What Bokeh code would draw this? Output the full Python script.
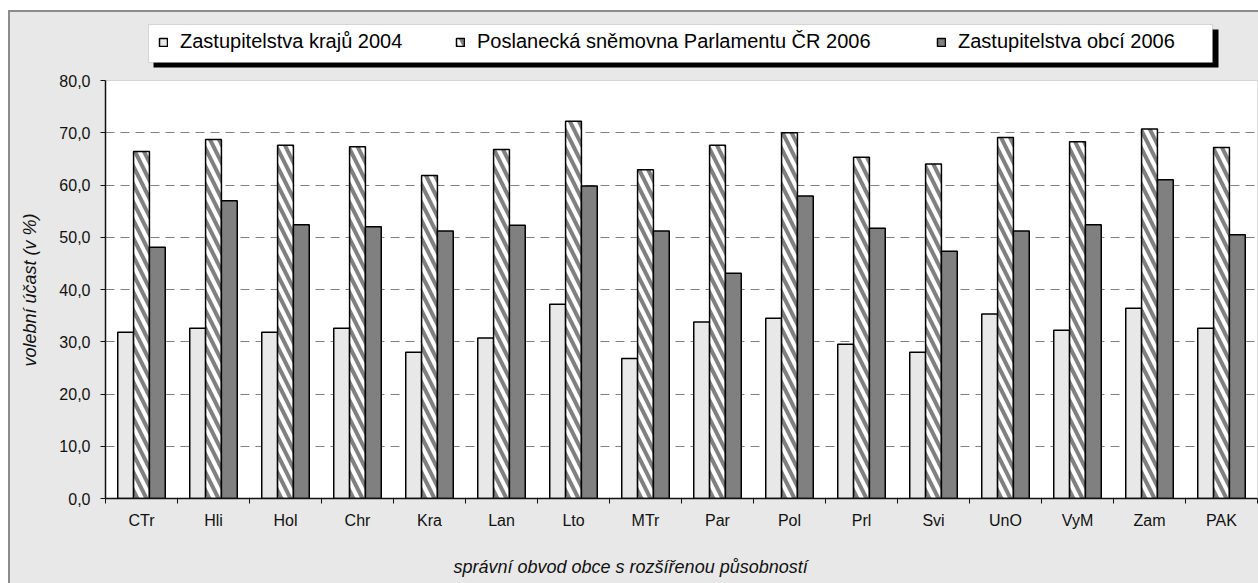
import numpy as np
from bokeh.plotting import figure
from bokeh.models import (ColumnDataSource, Range1d, FixedTicker, CustomJSTickFormatter,
                          BoxAnnotation, Legend, LegendItem, Title)
from bokeh.transform import dodge
from bokeh.embed import file_html
from bokeh.resources import INLINE

# ---------------- data ----------------
categories = ["CTr", "Hli", "Hol", "Chr", "Kra", "Lan", "Lto", "MTr",
              "Par", "Pol", "Prl", "Svi", "UnO", "VyM", "Zam", "PAK"]
zastupitelstva_kraju_2004 = [31.8, 32.6, 31.8, 32.6, 28.0, 30.7, 37.2, 26.8,
                             33.8, 34.5, 29.5, 28.0, 35.3, 32.2, 36.4, 32.6]
poslanecka_snemovna_2006 = [66.4, 68.7, 67.6, 67.3, 61.8, 66.8, 72.2, 62.9,
                            67.6, 70.0, 65.3, 64.0, 69.1, 68.3, 70.7, 67.2]
zastupitelstva_obci_2006 = [48.1, 57.0, 52.4, 52.0, 51.2, 52.3, 59.8, 51.2,
                            43.1, 57.9, 51.7, 47.3, 51.2, 52.4, 61.0, 50.5]
series_labels = ["Zastupitelstva krajů 2004",
                 "Poslanecká sněmovna Parlamentu ČR 2006",
                 "Zastupitelstva obcí 2006"]
y_ticks = [0, 10, 20, 30, 40, 50, 60, 70, 80]
y_title = "volební účast (v %)"
x_title = "správní obvod obce s rozšířenou působností"

# ---------------- style ----------------
BG = "#e8e8e8"
EDGE = "#8c8c8c"
FONT = "Liberation Sans"
n = len(categories)

src = ColumnDataSource(dict(
    x=[i + 0.5 for i in range(n)],
    a=zastupitelstva_kraju_2004,
    b=poslanecka_snemovna_2006,
    c=zastupitelstva_obci_2006,
))

p = figure(width=1258, height=583,
           x_range=Range1d(0, n), y_range=Range1d(0, 80 * 486 / 418),
           output_backend="svg", toolbar_location=None,
           min_border_left=105, min_border_right=1, min_border_top=12, min_border_bottom=85,
           background_fill_color=BG, border_fill_color=None, outline_line_color=None)

# chart-area background with its outer border (left and top edges visible)
p.styles = {
    "background": (f"linear-gradient({BG},{BG}) 10px 12px / 100% 100% no-repeat, "
                   f"linear-gradient({EDGE},{EDGE}) 8px 10px / 100% 100% no-repeat, white")
}

# white plot area
p.add_layout(BoxAnnotation(bottom=0, top=80, fill_color="white", fill_alpha=1,
                           line_color=EDGE, line_width=1, level="image"))

# grid
p.xgrid.visible = False
p.ygrid.ticker = FixedTicker(ticks=[t for t in y_ticks if 0 < t < 80])
p.ygrid.grid_line_color = "#808080"
p.ygrid.grid_line_dash = "9 6"
p.ygrid.grid_line_width = 1

# y axis
yax = p.yaxis[0]
yax.ticker = FixedTicker(ticks=y_ticks)
yax.bounds = (0, 80)
yax.formatter = CustomJSTickFormatter(code="return tick.toFixed(1).replace('.', ',');")
yax.major_tick_out = 5
yax.major_tick_in = 0
yax.minor_tick_out = 0
yax.minor_tick_in = 0
yax.axis_line_color = "#111111"
yax.axis_line_width = 1.5
yax.major_tick_line_color = "#111111"
yax.major_label_text_font = FONT
yax.major_label_text_font_size = "16px"
yax.major_label_text_color = "#111111"
yax.major_label_standoff = 10

p.add_layout(Title(text=y_title, align="left", offset=132, standoff=33,
                   text_font=FONT, text_font_style="italic", text_font_size="18px",
                   text_color="#111111"), "left")

# x axis
xax = p.xaxis[0]
xax.ticker = FixedTicker(ticks=[i + 0.5 for i in range(n)], minor_ticks=list(range(n + 1)))
xax.formatter = CustomJSTickFormatter(args=dict(cats=categories),
                                      code="return cats[Math.floor(tick)];")
xax.major_tick_out = 0
xax.major_tick_in = 0
xax.minor_tick_out = 5
xax.minor_tick_in = 0
xax.minor_tick_line_color = "#111111"
xax.axis_line_color = "#111111"
xax.axis_line_width = 1.5
xax.major_label_text_font = FONT
xax.major_label_text_font_size = "16px"
xax.major_label_text_color = "#111111"
xax.major_label_standoff = 8
# invisible spacer label so the title below sits lower in the bottom panel
xax.axis_label = "\u00a0"
xax.axis_label_text_font_size = "1px"
xax.axis_label_standoff = 17

p.add_layout(Title(text=x_title, align="left", offset=348, standoff=4,
                   text_font=FONT, text_font_style="italic", text_font_size="18px",
                   text_color="#111111"), "below")

# bars
bw = 0.22
r1 = p.vbar(x=dodge("x", -bw, range=p.x_range), top="a", width=bw, bottom=0, source=src,
            fill_color=BG, line_color="black", line_width=1.5)
r2 = p.vbar(x=dodge("x", 0, range=p.x_range), top="b", width=bw, bottom=0, source=src,
            fill_color="white", hatch_pattern="left_diagonal_line", hatch_color="#808080",
            hatch_weight=4, hatch_scale=18, line_color="black", line_width=1.5)
r3 = p.vbar(x=dodge("x", bw, range=p.x_range), top="c", width=bw, bottom=0, source=src,
            fill_color="#808080", line_color="black", line_width=1.5)

# legend box with shadow
p.add_layout(BoxAnnotation(left=48, right=1113, bottom=431, top=469,
                           left_units="screen", right_units="screen",
                           bottom_units="screen", top_units="screen",
                           fill_color="black", fill_alpha=1, line_color=None))
p.add_layout(BoxAnnotation(left=43, right=1107, bottom=436, top=474,
                           left_units="screen", right_units="screen",
                           bottom_units="screen", top_units="screen",
                           fill_color="white", fill_alpha=1, line_color=EDGE, line_width=1))

for r, lab, gx in zip([r1, r2, r3], series_labels, [158, 455, 936]):
    lg = Legend(items=[LegendItem(label=lab, renderers=[r])], location=(gx - 105, 445),
                orientation="horizontal", padding=0, margin=0, spacing=0,
                border_line_color=None, background_fill_alpha=0,
                glyph_width=10, glyph_height=10, label_standoff=12, label_height=10,
                label_text_font=FONT, label_text_font_size="20px", label_text_color="black")
    p.add_layout(lg)

open("out.html", "w").write(file_html(p, INLINE))
